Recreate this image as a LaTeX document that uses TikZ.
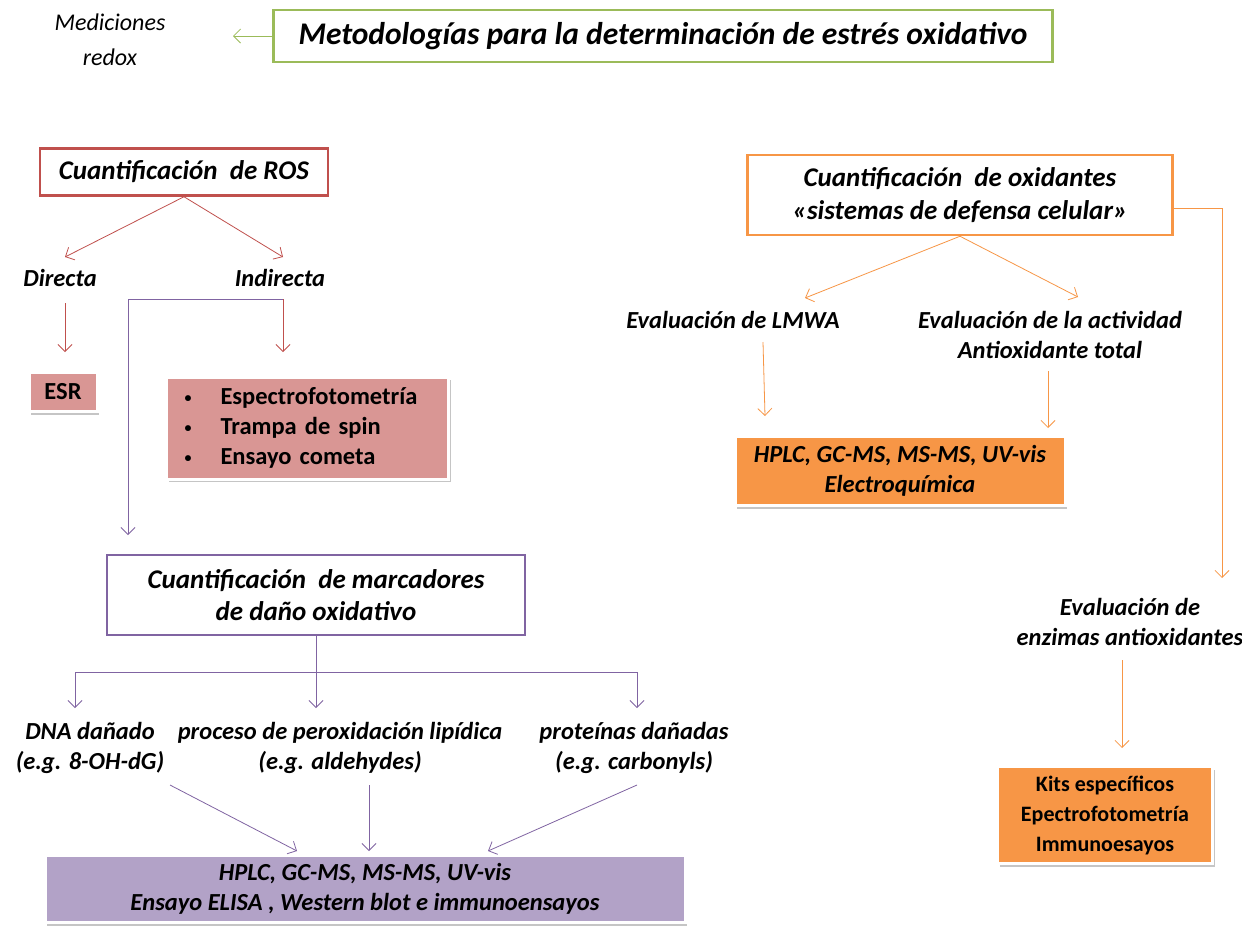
\documentclass[tikz,border=0pt]{standalone}
\usepackage{fontspec}
\setmainfont{Carlito}
\usetikzlibrary{arrows.meta,shadows}
\definecolor{cgreen}{HTML}{9BBB59}
\definecolor{cred}{HTML}{C0504D}
\definecolor{cpink}{HTML}{D99694}
\definecolor{cpurple}{HTML}{8064A2}
\definecolor{clav}{HTML}{B2A2C7}
\definecolor{corange}{HTML}{F79646}
\newcommand{\blt}{\makebox[36pt][l]{\raisebox{2pt}{\fontsize{14}{14}\selectfont •}}}
\begin{document}
\begin{tikzpicture}[x=1pt,y=-1pt,
  lbl/.style={font=\fontsize{24.5}{30}\selectfont\bfseries\itshape, align=center, inner sep=0},
  hbox/.style={draw=#1, line width=2.5pt, fill=white, inner sep=0, align=center, font=\fontsize{27}{32.5}\selectfont\bfseries\itshape},
  fbox/.style={fill=#1, draw=white, line width=3pt, inner sep=0, align=center,
    drop shadow={shadow xshift=2pt,shadow yshift=-3pt,fill=gray,opacity=0.45}},
  arr/.style={draw=#1, line width=0.8pt, -{Straight Barb[length=7pt,width=14pt]}},
  ln/.style={draw=#1, line width=0.8pt},
]
\useasboundingbox[fill=white] (0,0) rectangle (1242,927);

% top
\node[hbox=cgreen, minimum width=779, minimum height=52, font=\fontsize{31.5}{36}\selectfont\bfseries\itshape] (title) at (663,36) {Metodologías para la determinación de estrés oxidativo};
\node[align=center, inner sep=0, font=\fontsize{24}{35}\selectfont\itshape] (med) at (110,40) {Mediciones\\redox};
\draw[arr=cgreen] (title.west) -- (233,36);

% ROS
\node[hbox=cred, minimum width=288, minimum height=47] (ros) at (184,172) {Cuantificación\ \ de ROS};
\node[lbl] (dir) at (60,278) {Directa};
\node[lbl] (ind) at (280,278) {Indirecta};
\draw[arr=cred] (ros.south) -- (65,257);
\draw[arr=cred] (ros.south) -- (283,257);
\node[fbox=cpink, minimum width=68, minimum height=39, font=\fontsize{24.5}{28}\selectfont\bfseries] (esr) at (63,392) {ESR};
\node[fbox=cpink, minimum height=102, text width=246, inner xsep=18, align=left, anchor=west, font=\fontsize{24.5}{30}\selectfont\bfseries] (bul) at (165,428)
 {\blt Espectrofotometría\\\blt Trampa de spin\\\blt Ensayo cometa};
\coordinate (dirb) at (65,303);
\coordinate (indb) at (283,299);
\draw[arr=cred] (dirb) -- (65,352);
\draw[arr=cred] (indb) -- (283,352);

% marcadores
\node[hbox=cpurple, minimum width=418, minimum height=80] (mark) at (316,595) {Cuantificación\ \ de marcadores\\de daño oxidativo};
\coordinate (pc) at (128,299);
\draw[arr=cpurple] (indb) -- (pc) -- (128,535);
\coordinate (br) at (316,672);
\draw[ln=cpurple] (mark.south) -- (br);
\draw[arr=cpurple] (br) -- (75,672) -- (75,708);
\draw[arr=cpurple] (br) -- (316,708);
\draw[arr=cpurple] (br) -- (637,672) -- (637,708);
\node[lbl] (dna) at (90,748) {DNA dañado\\(e.g. 8-OH-dG)};
\node[lbl] (lip) at (340,748) {proceso de peroxidación lipídica\\(e.g. aldehydes)};
\node[lbl] (prot) at (634,748) {proteínas dañadas\\(e.g. carbonyls)};
\node[fbox=clav, minimum width=640, minimum height=67, font=\fontsize{24.5}{30}\selectfont\bfseries\itshape] (bot) at (365,889) {HPLC, GC-MS, MS-MS, UV-vis\\Ensayo ELISA , Western blot e immunoensayos};
\draw[arr=cpurple] (170,785) -- (297,851);
\draw[arr=cpurple] (369,785) -- (369,851);
\draw[arr=cpurple] (637,785) -- (488,851);

% right
\node[hbox=corange, minimum width=425, minimum height=80] (oxi) at (960,195) {Cuantificación\ \ de oxidantes\\«sistemas de defensa celular»};
\draw[arr=corange] (oxi.south) -- (805,298);
\draw[arr=corange] (oxi.south) -- (1078,297);
\node[lbl] (lmwa) at (733,320) {Evaluación de LMWA};
\node[lbl] (tot) at (1050,335) {Evaluación de la actividad\\Antioxidante total};
\node[fbox=corange, minimum width=330, minimum height=69, font=\fontsize{24.5}{30}\selectfont\bfseries\itshape] (hplc) at (900,471) {HPLC, GC-MS, MS-MS, UV-vis\\Electroquímica};
\draw[arr=corange] (763,342) -- (765,416);
\draw[arr=corange] (1048,371) -- (1048,428);
\coordinate (rc) at (1222,208);
\draw[arr=corange] (1173,208) -- (rc) -- (1222,578);
\node[lbl] (enz) at (1130,622) {Evaluación de\\enzimas antioxidantes};
\draw[arr=corange] (1122,660) -- (1122,748);
\node[fbox=corange, minimum width=215, minimum height=97, font=\fontsize{22}{30}\selectfont\bfseries] (kits) at (1105,815) {Kits específicos\\Epectrofotometría\\Immunoesayos};
\end{tikzpicture}
\end{document}
